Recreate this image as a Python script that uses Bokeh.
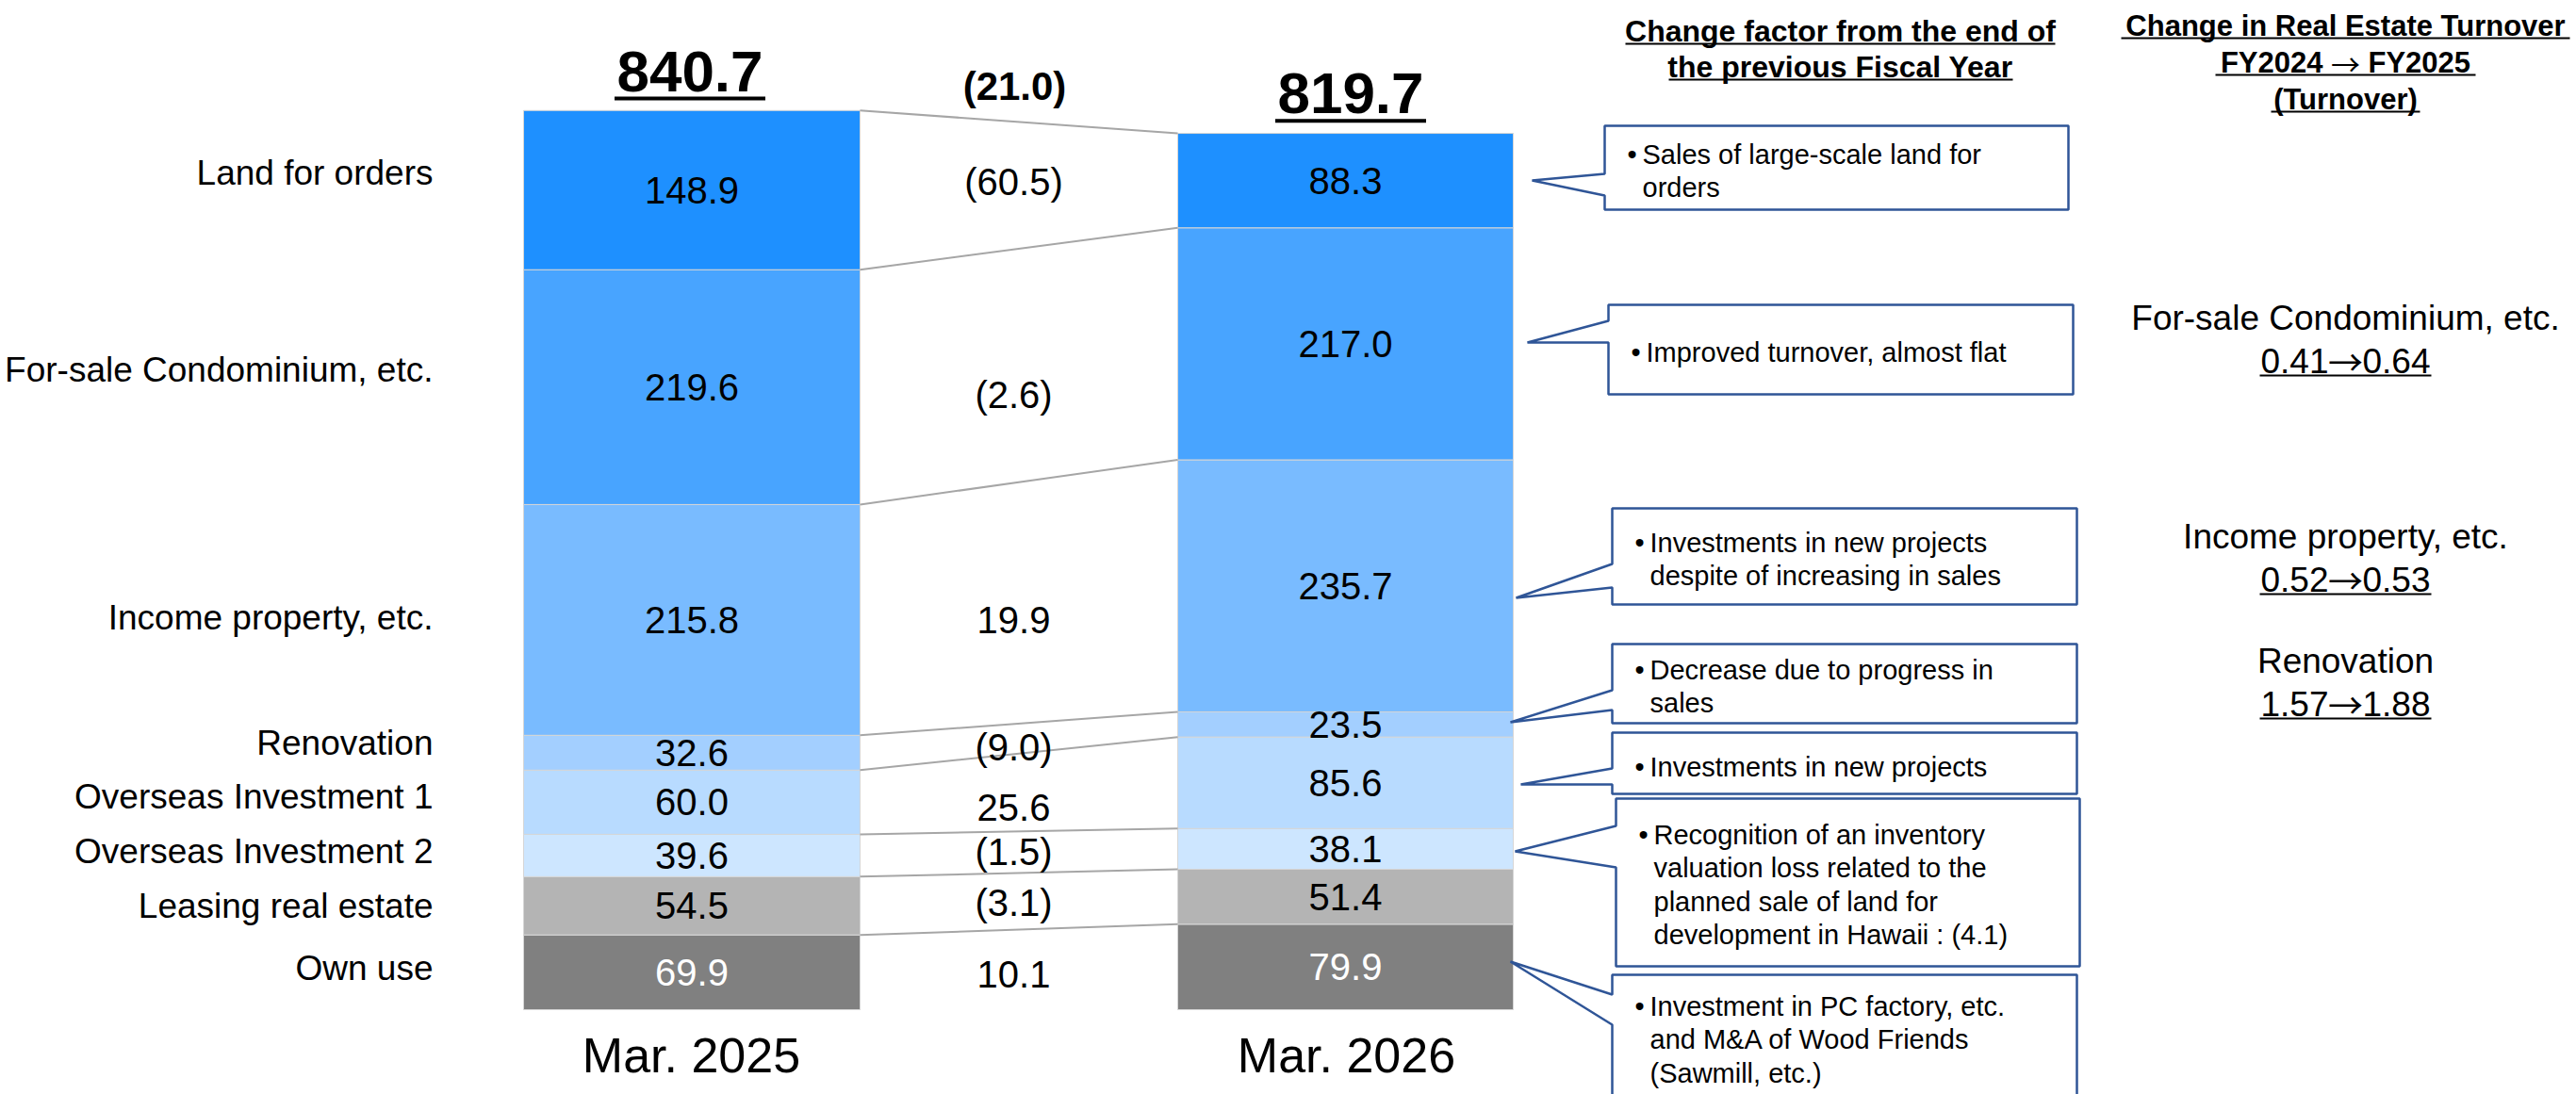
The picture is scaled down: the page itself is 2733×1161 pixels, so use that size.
from bokeh.plotting import figure
from bokeh.models import Range1d, ColumnDataSource
from bokeh.embed import file_html
from bokeh.resources import INLINE
from bokeh.core.properties import value

# ---------------- data ----------------
categories = ["Own use", "Leasing real estate", "Overseas Investment 2",
              "Overseas Investment 1", "Renovation", "Income property, etc.",
              "For-sale Condominium, etc.", "Land for orders"]
periods = ["Mar. 2025", "Mar. 2026"]
values_2025 = [69.9, 54.5, 39.6, 60.0, 32.6, 215.8, 219.6, 148.9]
values_2026 = [79.9, 51.4, 38.1, 85.6, 23.5, 235.7, 217.0, 88.3]
changes = [10.1, -3.1, -1.5, 25.6, -9.0, 19.9, -2.6, -60.5]
totals = [840.7, 819.7]
total_change = -21.0

notes = [
    ["Sales of large-scale land for", "orders"],
    ["Improved turnover, almost flat"],
    ["Investments in new projects", "despite of increasing in sales"],
    ["Decrease due to progress in", "sales"],
    ["Investments in new projects"],
    ["Recognition of an inventory", "valuation loss related to the",
     "planned sale of land for", "development in Hawaii : (4.1)"],
    ["Investment in PC factory, etc.", "and M&A of Wood Friends", "(Sawmill, etc.)"],
]
notes_header = ["Change factor from the end of", "the previous Fiscal Year"]
turnover_title = "Change in Real Estate Turnover"
turnover_years = ["FY2024", "FY2025"]
turnover_sub = "(Turnover)"
turnover_cats = ["For-sale Condominium, etc.", "Income property, etc.", "Renovation"]
turnover_fy2024 = [0.41, 0.52, 1.57]
turnover_fy2025 = [0.64, 0.53, 1.88]

colors = ["#808080", "#B4B4B4", "#CDE6FF", "#B8DBFF", "#A3CFFF", "#79BBFF", "#48A4FF", "#1E90FF"]
value_text_colors = ["white"] + ["black"] * 7

# ---------------- layout (page pixels) ----------------
W, H = 2733, 1161
BASE = 1071.0                # page y of value 0
K = 954.0 / 840.7            # pixels per unit
FONT = value("Liberation Sans")
ARROW_FONT = value("Noto Sans CJK JP")


def vy(page_y):
    return (BASE - page_y) / K


def fmt(v):
    return "(%.1f)" % abs(v) if v < 0 else "%.1f" % v


bar_x = [733.5, 1427.0]
bar_w = [357, 356]
diff_x = 1075
label_right = 459
label_dy = [-4, 0, -4, -6, -10, -2, -18, -18]
diff_dy = [2, -3, -4, 6, -6, 0, 8, -9]

p = figure(width=W, height=H, x_range=Range1d(0, W), y_range=Range1d(vy(H), vy(0)),
           output_backend="svg", toolbar_location=None, min_border=0)
p.axis.visible = False
p.grid.visible = False
p.outline_line_color = None
p.background_fill_color = "white"
p.border_fill_color = "white"


def stack(vals):
    cum = [0.0]
    for v in vals:
        cum.append(cum[-1] + v)
    return cum


cum_l = stack(values_2025)
cum_r = stack(values_2026)

# bars
for i, (vals, cum) in enumerate([(values_2025, cum_l), (values_2026, cum_r)]):
    src = ColumnDataSource(dict(x=[bar_x[i]] * len(vals), bottom=cum[:-1], top=cum[1:],
                                color=colors, mid=[(a + b) / 2 for a, b in zip(cum[:-1], cum[1:])],
                                txt=["%.1f" % v for v in vals], tc=value_text_colors))
    p.vbar(x="x", width=bar_w[i], bottom="bottom", top="top", fill_color="color",
           line_color="#D6D6D6", line_width=1, source=src)
    p.text(x="x", y="mid", text="txt", text_color="tc", text_font=FONT, text_font_size="40px",
           text_align="center", text_baseline="middle", source=src)

# connectors
p.segment(x0=[bar_x[0] + bar_w[0] / 2] * 8, y0=cum_l[1:], x1=[bar_x[1] - bar_w[1] / 2] * 8,
          y1=cum_r[1:], line_color="#A6A6A6", line_width=2)

# category labels
mids_l = [(a + b) / 2 for a, b in zip(cum_l[:-1], cum_l[1:])]
p.text(x=[label_right] * 8, y=[m - d / K for m, d in zip(mids_l, label_dy)], text=categories,
       text_font=FONT, text_font_size="37px", text_align="right", text_baseline="middle",
       text_color="black")

# change labels
p.text(x=[diff_x] * 8, y=[m - d / K for m, d in zip(mids_l, diff_dy)], text=[fmt(c) for c in changes],
       text_font=FONT, text_font_size="40px", text_align="center", text_baseline="middle",
       text_color="black")
p.text(x=[1076], y=[vy(91)], text=[fmt(total_change)], text_font=FONT, text_font_size="42px",
       text_font_style="bold", text_align="center", text_baseline="middle", text_color="black")

# totals
tot_x = [731.5, 1432.5]
p.text(x=tot_x, y=[t + 42 / K for t in totals], text=["%.1f" % t for t in totals],
       text_font=FONT, text_font_size="62px", text_font_style="bold", text_align="center",
       text_baseline="middle", text_color="black")
p.segment(x0=[x - 80 for x in tot_x], x1=[x + 80 for x in tot_x], y0=[t + 13 / K for t in totals],
          y1=[t + 13 / K for t in totals], line_color="black", line_width=4)

# period labels
p.text(x=[733, 1428], y=[vy(1119)] * 2, text=periods, text_font=FONT, text_font_size="52px",
       text_align="center", text_baseline="middle", text_color="black")

# callout boxes: (L, R, T, B, tipx, tipy, base_top, base_bot)
boxes = [
    (1702, 2194, 133, 222, 1625, 191, 184, 207),
    (1706, 2199, 323, 418, 1620, 363, 340, 363),
    (1710, 2203, 539, 641, 1608, 634, 598, 623),
    (1710, 2203, 683, 767, 1602, 766, 732, 753),
    (1710, 2203, 777, 842, 1613, 832, 815, 832),
    (1714, 2206, 847, 1025, 1607, 903, 876, 920),
    (1710, 2203, 1034, 1200, 1602, 1020, 1055, 1087),
]
xs, ys = [], []
for (L, R, T, B, tx, ty, b1, b2) in boxes:
    xs.append([L, R, R, L, L, tx, L])
    ys.append([vy(T), vy(T), vy(B), vy(B), vy(b2), vy(ty), vy(b1)])
p.patches(xs=xs, ys=ys, fill_color="white", line_color="#2F5597", line_width=2.5)

first_line_y = [163, 373, 575, 710, 813, 885, 1067]
line_gap = 35.5
bullet_x = [1726, 1730, 1734, 1734, 1734, 1738, 1734]
bx, by, tx_, ty_, tt = [], [], [], [], []
for i, lines in enumerate(notes):
    bx.append(bullet_x[i])
    by.append(vy(first_line_y[i]))
    for j, ln in enumerate(lines):
        tx_.append(bullet_x[i] + 16)
        ty_.append(vy(first_line_y[i] + j * line_gap))
        tt.append(ln)
p.text(x=bx, y=by, text=["\u2022"] * len(bx), text_font=FONT, text_font_size="29px",
       text_align="left", text_baseline="middle", text_color="black")
p.text(x=tx_, y=ty_, text=tt, text_font=FONT, text_font_size="29px",
       text_align="left", text_baseline="middle", text_color="black")

# headers
p.text(x=[1952] * 2, y=[vy(32), vy(70)], text=notes_header, text_font=FONT, text_font_size="32px",
       text_font_style="bold", text_align="center", text_baseline="middle", text_color="black")
p.segment(x0=[1724, 1770], x1=[2180, 2135], y0=[vy(46), vy(84)], y1=[vy(46), vy(84)],
          line_color="black", line_width=2)

hx = 2488
p.text(x=[hx, hx], y=[vy(27), vy(105)], text=[turnover_title, turnover_sub], text_font=FONT,
       text_font_size="31px", text_font_style="bold", text_align="center", text_baseline="middle",
       text_color="black")
p.text(x=[hx - 24], y=[vy(66)], text=[turnover_years[0]], text_font=FONT, text_font_size="31px",
       text_font_style="bold", text_align="right", text_baseline="middle", text_color="black")
p.text(x=[hx + 24], y=[vy(66)], text=[turnover_years[1]], text_font=FONT, text_font_size="31px",
       text_font_style="bold", text_align="left", text_baseline="middle", text_color="black")
p.text(x=[hx], y=[vy(66)], text=["\u2192"], text_font=ARROW_FONT, text_font_size="31px",
       text_align="center", text_baseline="middle", text_color="black")
p.segment(x0=[2250, 2350, 2409], x1=[2726, 2626, 2567], y0=[vy(40), vy(79), vy(118)],
          y1=[vy(40), vy(79), vy(118)], line_color="black", line_width=2)

cat_y = [337, 569, 701]
p.text(x=[hx] * 3, y=[vy(c) for c in cat_y], text=turnover_cats, text_font=FONT,
       text_font_size="37px", text_align="center", text_baseline="middle", text_color="black")
p.text(x=[hx - 18] * 3, y=[vy(c + 45) for c in cat_y], text=["%.2f" % a for a in turnover_fy2024],
       text_font=FONT, text_font_size="37px", text_align="right", text_baseline="middle",
       text_color="black")
p.text(x=[hx + 18] * 3, y=[vy(c + 45) for c in cat_y], text=["%.2f" % b for b in turnover_fy2025],
       text_font=FONT, text_font_size="37px", text_align="left", text_baseline="middle",
       text_color="black")
p.text(x=[hx] * 3, y=[vy(c + 45) for c in cat_y], text=["\u2192"] * 3, text_font=ARROW_FONT,
       text_font_size="37px", text_align="center", text_baseline="middle", text_color="black")
p.segment(x0=[2397] * 3, x1=[2579] * 3, y0=[vy(c + 61) for c in cat_y], y1=[vy(c + 61) for c in cat_y],
          line_color="black", line_width=2)

open("out.html", "w").write(file_html(p, INLINE))
